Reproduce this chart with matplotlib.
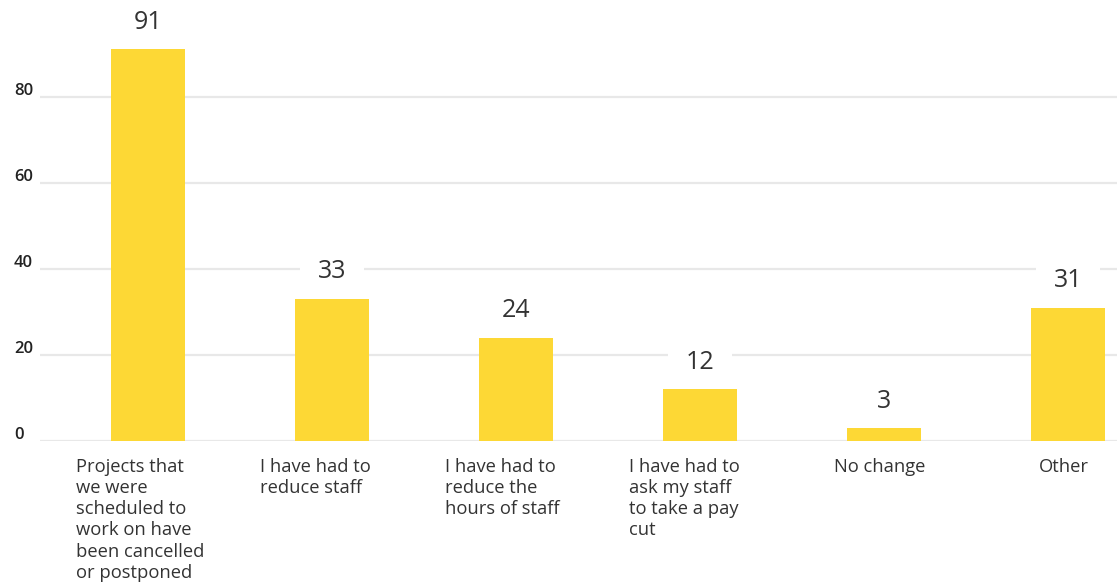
import matplotlib
matplotlib.use("Agg")
import matplotlib.pyplot as plt
from matplotlib import transforms

categories = [
    "Projects that\nwe were\nscheduled to\nwork on have\nbeen cancelled\nor postponed",
    "I have had to\nreduce staff",
    "I have had to\nreduce the\nhours of staff",
    "I have had to\nask my staff\nto take a pay\ncut",
    "No change",
    "Other",
]
values = [91, 33, 24, 12, 3, 31]
y_ticks = [0, 20, 40, 60, 80]

BAR_COLOR = "#FDD835"
GRID_COLOR = "#E8E8E8"
TEXT_COLOR = "#333333"
FONT = ["Open Sans", "DejaVu Sans"]

W, H, DPI = 1117, 582, 100
fig = plt.figure(figsize=(W / DPI, H / DPI), dpi=DPI)
ax = fig.add_axes([40 / W, (H - 441) / H, 1077 / W, 441 / H])

x = list(range(len(values)))
ax.set_xlim(-0.587, 5.266)
ax.set_ylim(0, 102.5)

for t in y_ticks:
    ax.axhline(t, color=GRID_COLOR, lw=1.6, zorder=0)

ax.bar(x, values, width=0.40, color=BAR_COLOR, zorder=2)

# value labels sit on a white box that interrupts the gridlines but stays under the bars
for xi, v in zip(x, values):
    ax.annotate(str(v), (xi, v), xytext=(0, 19.5), textcoords="offset points",
                ha="center", va="center", fontsize=18, color=TEXT_COLOR,
                family=FONT, zorder=1,
                bbox=dict(boxstyle="square,pad=0.7", fc="white", ec="none"))

# wrapped labels start near the left of their slot; one-line labels are centred
for xi, lab in zip(x, categories):
    wrapped = "\n" in lab
    ax.annotate(lab, (xi, 0), xytext=(-51.5 if wrapped else -3, -12),
                textcoords="offset points", ha="left" if wrapped else "center",
                va="top", multialignment="left", fontsize=13.2,
                color=TEXT_COLOR, family=FONT, linespacing=1.23)

ytrans = transforms.blended_transform_factory(fig.transFigure, ax.transData)
for t in y_ticks:
    ax.text(14 / W, t + 0.4, str(t), transform=ytrans, ha="left", va="baseline",
            fontsize=12, fontweight="semibold", color="#222222", family=FONT)

ax.set_xticks([])
ax.set_yticks([])
for s in ax.spines.values():
    s.set_visible(False)
ax.patch.set_alpha(0)

fig.savefig("out.png", dpi=DPI)
